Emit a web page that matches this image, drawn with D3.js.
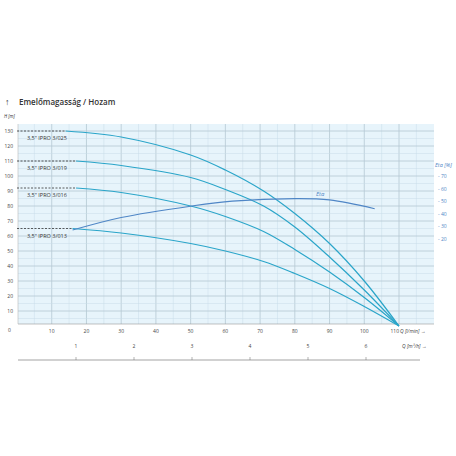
<!DOCTYPE html><html><head><meta charset="utf-8"><script src="https://cdn.jsdelivr.net/npm/d3@7"></script>
<style>body{margin:0;background:#fff}text{font-family:"Open Sans",sans-serif}</style></head><body><svg id="c" width="456" height="456"></svg><script>
const pumps=["3,5\" IPRO 3/025","3,5\" IPRO 3/019","3,5\" IPRO 3/016","3,5\" IPRO 3/013"];
const shutoff=[130,110,92,65];
const dashEnd=[14,17,17,16];
const h025=[130,126,114,104,90,75,55,30,0];
const h019=[110,107,99,91,80,66,46,24,0];
const h016=[92,89,80,73,63,51,36,19,0];
const h013=[65,62,55,50,43,35,25,13,0];
const curveQs=[[14,30,50,60,71,80,90,100,110],[17,30,50,60,71,80,90,100,110],[17,30,50,60,71,80,90,100,110],[16,30,50,60,71,80,90,100,110]];
const etaQ=[16,30,50,62,80,90,103];
const etaV=[27,37,46,50,52,51,44];
const hTicks=d3.range(10,131,10), qTicks=d3.range(10,111,10), m3Ticks=[1,2,3,4,5,6], etaTicks=[20,30,40,50,60,70];
const svg=d3.select("#c");
const x=d3.scaleLinear([0,110],[17,399]), y=d3.scaleLinear([0,130],[326,131]);
const ye=d3.scaleLinear([0,70],[264,176]), xm=d3.scaleLinear([0,6],[18,366]);
const L=18,R=434,T=124,B=324;
svg.append("rect").attr("x",L).attr("y",T).attr("width",R-L).attr("height",B-T).attr("fill","#e7f4fb");
const g=svg.append("g");
d3.range(5,120,5).forEach(v=>{const px=x(v);if(px>L&&px<R)g.append("line").attr("x1",px).attr("x2",px).attr("y1",T).attr("y2",B).attr("stroke",v%10?"#c9dde8":"#b5c8d3").attr("stroke-width",v%10?0.5:0.8);});
d3.range(5,135,5).forEach(v=>{const py=y(v);if(py>T&&py<B)g.append("line").attr("x1",L).attr("x2",R).attr("y1",py).attr("y2",py).attr("stroke",v%10?"#c9dde8":"#b5c8d3").attr("stroke-width",v%10?0.5:0.8);});
svg.append("line").attr("x1",L).attr("x2",R).attr("y1",B).attr("y2",B).attr("stroke","#999").attr("stroke-width",0.6);
svg.append("line").attr("x1",L).attr("x2",L).attr("y1",T).attr("y2",B).attr("stroke","#bbb").attr("stroke-width",0.6);
hTicks.forEach(v=>svg.append("text").attr("x",13).attr("y",y(v)+2).attr("text-anchor","end").attr("font-size",5).attr("fill","#444").text(v));
svg.append("text").attr("x",8).attr("y",332).attr("font-size",5).attr("fill","#444").text("0");
qTicks.forEach(v=>svg.append("text").attr("x",x(v)).attr("y",333).attr("text-anchor",v==110?"end":"middle").attr("font-size",5).attr("fill","#444").text(v));
svg.append("text").attr("x",400).attr("y",333).attr("font-size",5).attr("font-style","italic").attr("fill","#444").text("Q [l/min] →");
svg.append("line").attr("x1",18).attr("x2",420).attr("y1",360).attr("y2",360).attr("stroke","#666").attr("stroke-width",0.6);
m3Ticks.forEach(v=>{svg.append("line").attr("x1",xm(v)).attr("x2",xm(v)).attr("y1",357).attr("y2",360).attr("stroke","#666").attr("stroke-width",0.5);
 svg.append("text").attr("x",xm(v)).attr("y",348).attr("text-anchor","middle").attr("font-size",5).attr("fill","#444").text(v);});
svg.append("text").attr("x",402).attr("y",348).attr("font-size",5).attr("font-style","italic").attr("fill","#444").text("Q [m³/h] →");
etaTicks.forEach(v=>svg.append("text").attr("x",438).attr("y",ye(v)+2).attr("font-size",5).attr("fill","#4f86c6").text("- "+v));
svg.append("text").attr("x",435).attr("y",167).attr("font-size",5.5).attr("font-style","italic").attr("fill","#4f86c6").text("Eta [%]");
svg.append("text").attr("x",19).attr("y",105).attr("font-size",8).attr("fill","#333").attr("font-weight","600").text("Emelőmagasság / Hozam");
svg.append("text").attr("x",5).attr("y",105).attr("font-size",9).attr("fill","#333").text("↑");
svg.append("text").attr("x",4).attr("y",118).attr("font-size",4.5).attr("font-style","italic").attr("fill","#333").text("H [m]");
const line=d3.line().x(d=>x(d[0])).y(d=>y(d[1])).curve(d3.curveCatmullRom.alpha(0.5));
const hs=[h025,h019,h016,h013];
hs.forEach((h,i)=>{
 svg.append("line").attr("x1",x(0)).attr("x2",x(dashEnd[i])).attr("y1",y(shutoff[i])).attr("y2",y(shutoff[i])).attr("stroke","#333").attr("stroke-dasharray","2,1.5").attr("stroke-width",0.8);
 svg.append("path").attr("d",line(curveQs[i].map((q,j)=>[q,h[j]]))).attr("fill","none").attr("stroke","#2aa5c9").attr("stroke-width",1.2);
 svg.append("text").attr("x",27).attr("y",y(shutoff[i])+9).attr("font-size",5.5).attr("fill","#333").text(pumps[i]);
});
svg.append("path").attr("d",d3.line().x(d=>x(d[0])).y(d=>ye(d[1])).curve(d3.curveCatmullRom.alpha(0.5))(etaQ.map((q,i)=>[q,etaV[i]]))).attr("fill","none").attr("stroke","#4f86c6").attr("stroke-width",1.1);
svg.append("text").attr("x",316).attr("y",196).attr("font-size",6).attr("font-style","italic").attr("fill","#4f86c6").text("Eta");
</script></body></html>
